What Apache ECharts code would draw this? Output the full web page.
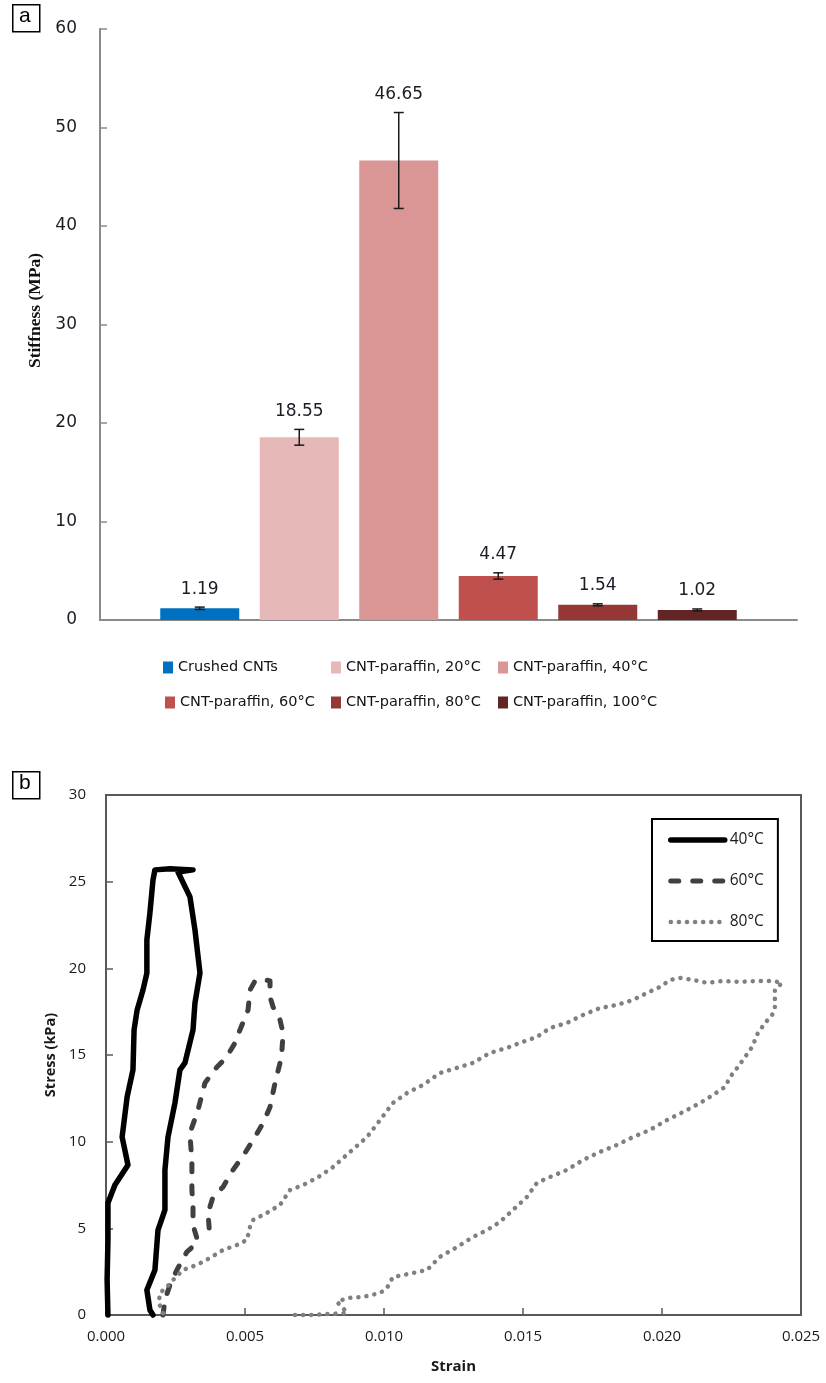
<!DOCTYPE html>
<html>
<head>
<meta charset="utf-8">
<script src="https://cdn.jsdelivr.net/npm/echarts@6/dist/echarts.min.js"></script>
<style>
  html, body { margin: 0; padding: 0; background: #ffffff; }
  #chart { width: 826px; height: 1383px; }
</style>
</head>
<body>
<div id="chart"></div>
<script>
// ---------- Panel a: stiffness of each sample ----------
const sampleNames = ['Crushed CNTs', 'CNT-paraffin, 20°C', 'CNT-paraffin, 40°C',
                     'CNT-paraffin, 60°C', 'CNT-paraffin, 80°C', 'CNT-paraffin, 100°C'];
const stiffness = [1.19, 18.55, 46.65, 4.47, 1.54, 1.02];          // MPa
const stiffnessErr = [0.12, 0.80, 4.87, 0.32, 0.10, 0.10];         // MPa, ±
const barColors = ['#0070C0', '#E6B9B8', '#D99694', '#C0504D', '#953735', '#632523'];

// ---------- Panel b: stress-strain loops (strain in units of 1e-3, stress in kPa) ----------
const seriesNamesB = ['40°C', '60°C', '80°C'];

const strain40 = [0.07, 0.04, 0.07, 0.07, 0.32, 0.79, 0.58, 0.76, 0.97, 1.01, 1.12, 1.33, 1.47, 1.47,
                  1.58, 1.69, 1.76, 2.30, 3.13, 2.59, 3.02, 3.20, 3.38, 3.20, 3.13, 2.84, 2.66, 2.48,
                  2.23, 2.12, 2.12, 1.87, 1.76, 1.47, 1.58, 1.69];
const stress40 = [0, 2.02, 4.33, 6.46, 7.50, 8.66, 10.27, 12.58, 14.14, 16.45, 17.60, 18.75, 19.73, 21.64,
                  23.20, 25.10, 25.68, 25.74, 25.68, 25.56, 24.12, 22.22, 19.73, 18.00, 16.45, 14.54, 14.14, 12.23,
                  10.27, 8.37, 6.06, 4.90, 2.60, 1.44, 0.29, 0];

const strain60 = [2.05, 2.12, 2.30, 2.55, 2.91, 3.31, 3.13, 3.13, 3.09, 3.09, 3.02, 3.31, 3.56, 3.99,
                  4.32, 4.64, 4.82, 5.11, 5.18, 5.36, 5.61, 5.90, 5.90, 6.01, 6.26, 6.37, 6.33, 6.26,
                  6.08, 5.90, 5.65, 5.36, 5.00, 4.57, 4.21, 3.85, 3.67, 3.71];
const stress60 = [0, 0.87, 1.73, 2.60, 3.64, 4.21, 5.19, 6.23, 7.21, 8.77, 10.50, 11.83, 13.39, 14.31,
                  14.83, 15.70, 16.45, 17.60, 18.75, 19.27, 19.39, 19.27, 18.35, 17.77, 17.02, 16.27, 15.29, 14.54,
                  13.39, 12.00, 11.08, 10.27, 9.35, 8.37, 7.39, 6.81, 5.89, 5.02];

const strain80 = [2.05, 1.90, 1.94, 2.19, 2.41, 2.77, 3.27, 3.74, 4.21, 4.71, 5.07, 5.18, 5.29, 5.79,
                  6.26, 6.62, 7.09, 7.59, 8.17, 8.78, 9.39, 9.86, 10.32, 10.83, 11.40, 12.01, 13.20, 13.81,
                  14.42, 14.89, 15.50, 15.97, 16.58, 17.16, 17.77, 18.38, 18.96, 19.46, 19.93, 20.29, 20.65, 21.12,
                  21.62, 22.19, 22.81, 23.42, 23.99, 24.32,
                  24.06, 24.06, 24.06, 23.96, 23.71, 23.45, 23.24, 22.99, 22.73, 22.45, 22.27, 21.83, 21.37, 20.76,
                  20.18, 19.57, 18.96, 18.38, 17.77, 17.16, 16.58, 15.97, 15.50, 15.14, 14.64, 14.17, 13.71, 13.20,
                  12.63, 12.01, 11.55, 11.04, 10.32, 10.11, 9.86, 9.24, 8.67, 8.31, 8.53, 8.67, 8.06, 7.34, 6.62];
const stress80 = [0.10, 0.70, 1.27, 1.62, 2.02, 2.60, 2.89, 3.29, 3.75, 4.04, 4.33, 5.08, 5.48, 5.89,
                  6.35, 7.21, 7.50, 7.91, 8.54, 9.41, 10.27, 11.25, 12.23, 12.81, 13.27, 13.96, 14.54, 15.12,
                  15.41, 15.70, 16.04, 16.56, 16.85, 17.31, 17.71, 17.89, 18.18, 18.58, 18.93, 19.33, 19.45, 19.33,
                  19.16, 19.27, 19.22, 19.27, 19.27, 19.16,
                  18.75, 18.18, 17.71, 17.31, 16.85, 16.27, 15.46, 14.89, 14.31, 13.73, 13.16, 12.69, 12.23, 11.71,
                  11.25, 10.68, 10.27, 9.81, 9.41, 8.94, 8.37, 7.96, 7.62, 6.81, 6.06, 5.37, 4.90, 4.50,
                  3.92, 3.35, 2.60, 2.42, 2.19, 1.56, 1.27, 1.04, 0.98, 0.75, 0.40, 0.12, 0.06, 0, 0];

const toPairs = (strainMilli, stress) => strainMilli.map((s, i) => [s / 1000, stress[i]]);

// ---------- shared styles ----------
const fontA = '"DejaVu Sans", Verdana, sans-serif';
const fontB = '"Open Sans", "Liberation Sans", sans-serif';
const frameGrey = '#595959';
const clear = 'rgba(0,0,0,0)';

// Bars: one series per sample so each gets its own legend entry
const barSeries = sampleNames.map((name, i) => ({
  name: name,
  type: 'bar',
  xAxisIndex: 1,
  yAxisIndex: 1,
  barWidth: 79,
  barGap: '-100%',
  itemStyle: { color: barColors[i] },
  data: stiffness.map((v, j) => (j === i ? v : '-'))
}));

// Error bars with value labels above them
const errorSeries = {
  type: 'custom',
  xAxisIndex: 1,
  yAxisIndex: 1,
  encode: { x: 0, y: 1 },
  z: 5,
  data: stiffness.map((v, i) => [i, v, stiffnessErr[i]]),
  renderItem: function (params, api) {
    const i = api.value(0), v = api.value(1), e = api.value(2);
    const top = api.coord([i, v + e]);
    const bot = api.coord([i, v - e]);
    const cap = 5;
    const st = { stroke: '#1a1a1a', lineWidth: 1.5 };
    return {
      type: 'group',
      children: [
        { type: 'line', shape: { x1: top[0], y1: top[1], x2: bot[0], y2: bot[1] }, style: st },
        { type: 'line', shape: { x1: top[0] - cap, y1: top[1], x2: top[0] + cap, y2: top[1] }, style: st },
        { type: 'line', shape: { x1: bot[0] - cap, y1: bot[1], x2: bot[0] + cap, y2: bot[1] }, style: st },
        { type: 'text', x: top[0], y: top[1] - 18,
          style: { text: v.toFixed(2), align: 'center', verticalAlign: 'middle',
                   fontSize: 17, fontFamily: fontA, fill: '#1c1c26' } }
      ]
    };
  }
};

// Legend of panel a: two rows of three columns
const legendLeft = [163, 331, 498, 165, 331, 498];
const legendTop = [660, 660, 660, 695, 695, 695];
const legendsA = sampleNames.map((name, i) => ({
  data: [name],
  left: legendLeft[i],
  top: legendTop[i],
  padding: 0,
  icon: 'rect',
  itemWidth: 10,
  itemHeight: 12,
  selectedMode: false,
  textStyle: { fontFamily: fontA, fontSize: 14.5, color: '#141414' }
}));

// Line series of panel b
const lineSeries = [
  { name: seriesNamesB[0], data: toPairs(strain40, stress40),
    lineStyle: { color: '#000000', width: 5.5, type: 'solid', join: 'round', cap: 'round' } },
  { name: seriesNamesB[1], data: toPairs(strain60, stress60),
    lineStyle: { color: '#404040', width: 5, type: [8, 14], join: 'round', cap: 'round' } },
  { name: seriesNamesB[2], data: toPairs(strain80, stress80),
    lineStyle: { color: '#808080', width: 4.5, type: [0.1, 8], join: 'round', cap: 'round' } }
].map(s => Object.assign({
  type: 'line',
  xAxisIndex: 2,
  yAxisIndex: 2,
  symbol: 'none',
  showSymbol: false,
  clip: false,
  itemStyle: { color: s.lineStyle.color }
}, s));

// Legend of panel b: line samples only, inside a framed box
const legendB = {
  data: seriesNamesB.map((n, i) => ({
    name: n,
    lineStyle: lineSeries[i].lineStyle,
    itemStyle: { color: clear, borderColor: clear, borderWidth: 0 }
  })),
  orient: 'vertical',
  left: 652,
  top: 819,
  padding: [13, 14, 11, 16],
  itemGap: 25,
  itemWidth: 54,
  itemHeight: 14,
  borderColor: '#000000',
  borderWidth: 2,
  selectedMode: false,
  itemStyle: { color: clear, borderColor: clear, borderWidth: 0 },
  textStyle: { fontFamily: fontB, fontSize: 15.5, color: '#1a1a1a' }
};

const option = {
  animation: false,
  backgroundColor: '#ffffff',
  grid: [
    { left: 100, top: 29, width: 697, height: 591 },              // panel a axes
    { left: 150, top: 29, width: 597, height: 591 },              // panel a bars
    { left: 106, top: 795, width: 695, height: 520, show: true,   // panel b
      borderColor: frameGrey, borderWidth: 2 }
  ],
  xAxis: [
    { gridIndex: 0, type: 'value', min: 0, max: 1,
      axisLine: { show: true, lineStyle: { color: '#8a8a8a', width: 2 } },
      axisTick: { show: false }, axisLabel: { show: false }, splitLine: { show: false } },
    { gridIndex: 1, type: 'category', data: sampleNames, show: false },
    { gridIndex: 2, type: 'value', min: 0, max: 0.025, interval: 0.005,
      name: 'Strain', nameLocation: 'middle', nameGap: 44,
      nameTextStyle: { fontFamily: fontB, fontWeight: 'bold', fontSize: 15, color: '#1a1a1a' },
      axisLine: { show: true, onZero: false, lineStyle: { color: frameGrey, width: 2 } },
      axisTick: { show: true, inside: true, length: 7, lineStyle: { color: frameGrey, width: 1.5 } },
      axisLabel: { margin: 14, fontFamily: fontB, fontSize: 15, color: '#1a1a1a',
                   formatter: v => v.toFixed(3) },
      splitLine: { show: false } }
  ],
  yAxis: [
    { gridIndex: 0, type: 'value', min: 0, max: 60, interval: 10,
      name: 'Stiffness (MPa)', nameLocation: 'middle', nameGap: 54,
      nameTextStyle: { fontFamily: '"Liberation Serif", "Times New Roman", serif', fontWeight: 'bold',
                       fontSize: 17.5, color: '#111111', padding: [0, 0, 0, 28] },
      axisLine: { show: true, lineStyle: { color: '#8a8a8a', width: 2 } },
      axisTick: { show: true, inside: true, length: 7, lineStyle: { color: '#8a8a8a', width: 1.5 } },
      axisLabel: { margin: 23, fontFamily: fontA, fontSize: 17, color: '#1c1c26' },
      splitLine: { show: false } },
    { gridIndex: 1, type: 'value', min: 0, max: 60, show: false },
    { gridIndex: 2, type: 'value', min: 0, max: 30, interval: 5,
      name: 'Stress (kPa)', nameLocation: 'middle', nameGap: 40,
      nameTextStyle: { fontFamily: fontB, fontWeight: 'bold', fontSize: 14.5, color: '#1a1a1a' },
      axisLine: { show: true, onZero: false, lineStyle: { color: frameGrey, width: 2 } },
      axisTick: { show: true, inside: true, length: 7, lineStyle: { color: frameGrey, width: 1.5 } },
      axisLabel: { margin: 20, fontFamily: fontB, fontSize: 15, color: '#1a1a1a' },
      splitLine: { show: false } }
  ],
  legend: legendsA.concat([legendB]),
  series: barSeries.concat([errorSeries]).concat(lineSeries),
  graphic: [
    { type: 'rect', left: 12, top: 4, shape: { width: 27, height: 27 },
      style: { fill: '#ffffff', stroke: '#000000', lineWidth: 1.5 } },
    { type: 'text', left: 19, top: 6,
      style: { text: 'a', fontFamily: '"Liberation Sans", Arial, sans-serif', fontSize: 21, fill: '#000000' } },
    { type: 'rect', left: 12, top: 771, shape: { width: 27, height: 27 },
      style: { fill: '#ffffff', stroke: '#000000', lineWidth: 1.5 } },
    { type: 'text', left: 19, top: 773,
      style: { text: 'b', fontFamily: '"Liberation Sans", Arial, sans-serif', fontSize: 21, fill: '#000000' } }
  ]
};

const chart = echarts.init(document.getElementById('chart'), null, { renderer: 'canvas' });
chart.setOption(option);
</script>
</body>
</html>
